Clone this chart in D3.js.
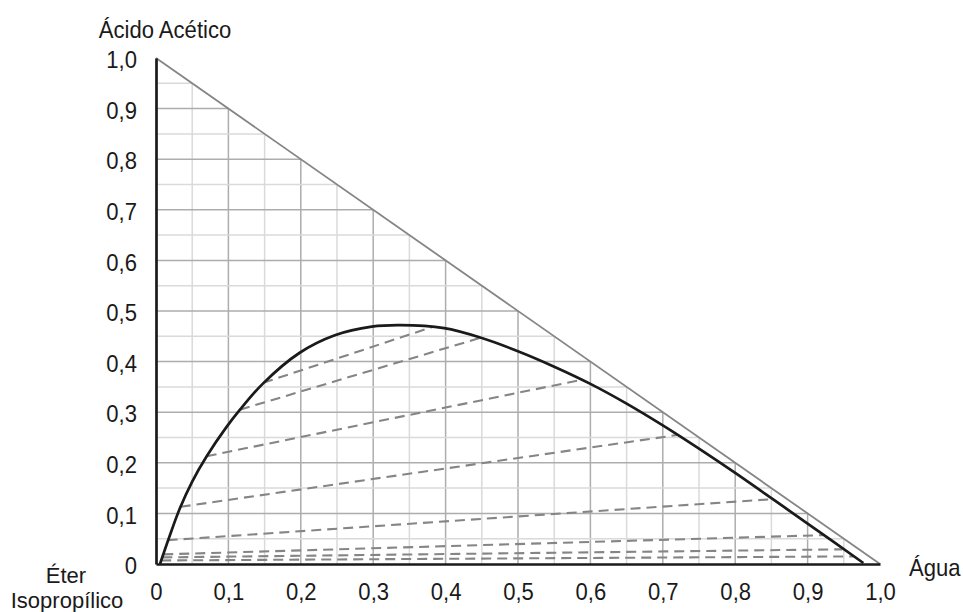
<!DOCTYPE html>
<html>
<head>
<meta charset="utf-8">
<script src="https://cdn.jsdelivr.net/npm/d3@7"></script>
<style>
  body { margin: 0; background: #fff; }
  text { font-family: "Liberation Sans", Arial, sans-serif; fill: #1a1a1a; }
</style>
</head>
<body>
<div id="chart"></div>
<script>
// >-----------------< Data >-------------------<
// binodal curve: água (x) vs ácido acético (y)
const binodalWater = [0.0055, 0.018, 0.033, 0.050, 0.070, 0.097, 0.116, 0.148, 0.198, 0.247, 0.298, 0.337, 0.398, 0.449, 0.499, 0.550, 0.600, 0.650, 0.700, 0.750, 0.800, 0.850, 0.900, 0.977];
const binodalAcid  = [0.000, 0.052, 0.110, 0.163, 0.213, 0.270, 0.305, 0.357, 0.417, 0.452, 0.469, 0.472, 0.466, 0.447, 0.421, 0.390, 0.356, 0.317, 0.274, 0.228, 0.180, 0.130, 0.080, 0.002];

// tie lines (left end -> right end)
const tieLeftWater  = [0.148, 0.116, 0.070, 0.034, 0.016, 0.010, 0.0087, 0.0072];
const tieLeftAcid   = [0.358, 0.305, 0.213, 0.113, 0.047, 0.019, 0.013, 0.007];
const tieRightWater = [0.381, 0.448, 0.588, 0.720, 0.850, 0.921, 0.948, 0.963];
const tieRightAcid  = [0.468, 0.447, 0.364, 0.255, 0.128, 0.057, 0.029, 0.015];

const tickValues = [0, 0.1, 0.2, 0.3, 0.4, 0.5, 0.6, 0.7, 0.8, 0.9, 1.0];
const gridValues = d3.range(1, 20).map(i => i / 20);

// >-----------------< Setup >-------------------<
const width = 963, height = 612;
const narrow = 0.92; // squeeze text horizontally, source font is a bit condensed

const svg = d3.select("#chart").append("svg")
  .attr("width", width)
  .attr("height", height);

const x = d3.scaleLinear().domain([0, 1]).range([156, 880]);
const y = d3.scaleLinear().domain([0, 1]).range([564, 58]);

const fmt = d => d === 0 ? "0" : d3.format(".1f")(d).replace(".", ",");

// >-----------------< Grid (clipped to triangle) >-------------------<
const isMajor = v => Math.abs(v * 10 - Math.round(v * 10)) < 1e-6;
const gridOrdered = gridValues.slice().sort((a, b) => isMajor(a) - isMajor(b));

svg.append("g").selectAll("line")
  .data(gridOrdered)
  .enter().append("line")
  .attr("x1", d => x(d)).attr("x2", d => x(d))
  .attr("y1", y(0)).attr("y2", d => y(1 - d))
  .attr("stroke", d => isMajor(d) ? "#adadad" : "#dadada")
  .attr("stroke-width", 1.5);

svg.append("g").selectAll("line")
  .data(gridOrdered)
  .enter().append("line")
  .attr("y1", d => y(d)).attr("y2", d => y(d))
  .attr("x1", x(0)).attr("x2", d => x(1 - d))
  .attr("stroke", d => isMajor(d) ? "#adadad" : "#dadada")
  .attr("stroke-width", 1.5);

// hypotenuse
svg.append("line")
  .attr("x1", x(0)).attr("y1", y(1))
  .attr("x2", x(1)).attr("y2", y(0))
  .attr("stroke", "#858585")
  .attr("stroke-width", 1.8);

// >-----------------< Tie lines >-------------------<
svg.append("g").selectAll("line")
  .data(d3.range(tieLeftWater.length))
  .enter().append("line")
  .attr("x1", i => x(tieLeftWater[i])).attr("y1", i => y(tieLeftAcid[i]))
  .attr("x2", i => x(tieRightWater[i])).attr("y2", i => y(tieRightAcid[i]))
  .attr("stroke", "#858585")
  .attr("stroke-width", 2.1)
  .attr("stroke-dasharray", "10,6");

// >-----------------< Binodal curve >-------------------<
const curvePts = binodalWater.map((w, i) => [w, binodalAcid[i]]);
svg.append("path")
  .datum(curvePts)
  .attr("d", d3.line().x(d => x(d[0])).y(d => y(d[1])).curve(d3.curveCatmullRom.alpha(0.5)))
  .attr("fill", "none")
  .attr("stroke", "#1a1a1a")
  .attr("stroke-width", 2.7);

// >-----------------< Axes >-------------------<
const yAxis = svg.append("g")
  .attr("transform", `translate(${x(0)},0)`)
  .call(d3.axisLeft(y).tickValues(tickValues).tickFormat(fmt).tickSize(0).tickPadding(19 / narrow));
yAxis.select(".domain").attr("stroke", "#1a1a1a").attr("stroke-width", 2.7);
yAxis.attr("font-family", null).attr("font-size", null);
yAxis.selectAll("text")
  .attr("font-size", 24)
  .attr("dy", "0.4em")
  .attr("transform", `scale(${narrow},1)`);

const xAxis = svg.append("g")
  .attr("transform", `translate(0,${y(0)})`)
  .call(d3.axisBottom(x).tickValues(tickValues).tickFormat(fmt).tickSize(0).tickPadding(19));
xAxis.select(".domain").attr("stroke", "#1a1a1a").attr("stroke-width", 2.7);
xAxis.attr("font-family", null).attr("font-size", null);
xAxis.selectAll("text")
  .attr("font-size", 24)
  .attr("transform", `scale(${narrow},1)`);

// >-----------------< Vertex labels >-------------------<
function label(px, py, anchor, txt, size, sx) {
  svg.append("text")
    .attr("transform", `translate(${px},${py}) scale(${sx},1)`)
    .attr("text-anchor", anchor)
    .attr("font-size", size)
    .text(txt);
}
label(165, 38, "middle", "Ácido Acético", 24, narrow);
label(909, 576, "start", "Água", 24, narrow);
// two-line label, slightly smaller so the lines don't collide
label(66, 583, "middle", "Éter", 22, 1);
label(67, 608, "middle", "Isopropílico", 22, 1);
</script>
</body>
</html>
